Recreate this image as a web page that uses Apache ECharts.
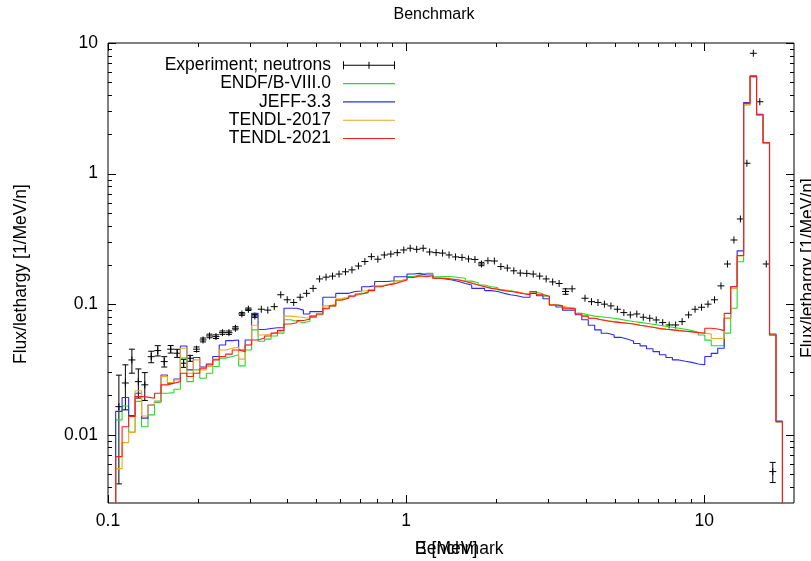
<!DOCTYPE html>
<html><head><meta charset="utf-8">
<script src="https://cdn.jsdelivr.net/npm/echarts@6/dist/echarts.min.js"></script>
<style>html,body{margin:0;padding:0;background:#fff}#c{width:811px;height:561px}</style>
</head><body><div id="c"></div>
<script>
// Bin edges [MeV] (lethargy bins)
const binEdges = [
0.1061, 0.1115, 0.1173, 0.1233, 0.1296, 0.1362, 0.1432, 0.1506, 0.1583, 0.1664,
0.1749, 0.1839, 0.1933, 0.2032, 0.2137, 0.2246, 0.2361, 0.2482, 0.2610, 0.2743,
0.2884, 0.3032, 0.3187, 0.3351, 0.3523, 0.3703, 0.3893, 0.4093, 0.4303, 0.4523,
0.4755, 0.4999, 0.5255, 0.5525, 0.5808, 0.6106, 0.6419, 0.6748, 0.7094, 0.7457,
0.7840, 0.8242, 0.8664, 0.9109, 0.9576, 1.0067, 1.0583, 1.1125, 1.1696, 1.2295,
1.2926, 1.3588, 1.4285, 1.5017, 1.5787, 1.6597, 1.7448, 1.8342, 1.9283, 2.0271,
2.1311, 2.2404, 2.3552, 2.4760, 2.6029, 2.7364, 2.8767, 3.0242, 3.1792, 3.3422,
3.5136, 3.6937, 3.8831, 4.0822, 4.2915, 4.5115, 4.7428, 4.9860, 5.2417, 5.5104,
5.7929, 6.0899, 6.4022, 6.7304, 7.0755, 7.4383, 7.8196, 8.2206, 8.6420, 9.0851,
9.5509, 10.041, 10.555, 11.097, 11.666, 12.264, 12.892, 13.554, 14.248, 14.979,
15.747, 16.554, 17.403, 18.295];

const endf = [
0.0130, 0.0166, 0.0105, 0.018, 0.0115, 0.0142, 0.0177, 0.0208, 0.021, 0.0223,
0.0386, 0.0255, 0.0314, 0.0271, 0.0296, 0.0333, 0.0386, 0.0397, 0.041, 0.0337,
0.0446, 0.0635, 0.052, 0.054, 0.057, 0.060, 0.076, 0.074, 0.072, 0.074,
0.079, 0.083, 0.092, 0.097, 0.107, 0.111, 0.116, 0.120, 0.124, 0.129,
0.137, 0.141, 0.145, 0.151, 0.156, 0.163, 0.167, 0.172, 0.172, 0.162,
0.163, 0.162, 0.160, 0.158, 0.150, 0.146, 0.140, 0.136, 0.134, 0.1285,
0.127, 0.124, 0.121, 0.120, 0.123, 0.120, 0.115, 0.0995, 0.0975, 0.094,
0.093, 0.085, 0.083, 0.081, 0.080, 0.079, 0.078, 0.0765, 0.075, 0.0737,
0.0725, 0.0714, 0.0702, 0.0689, 0.0677, 0.0665, 0.0654, 0.0642, 0.0627, 0.061,
0.058, 0.053, 0.048, 0.048, 0.060, 0.093, 0.211, 3.35, 5.5, 2.80,
1.70, 0.058, 0.0125];

const jeff = [
0.0151, 0.0193, 0.0140, 0.0208, 0.0134, 0.0169, 0.0180, 0.0287, 0.0248, 0.0267,
0.0478, 0.0314, 0.039, 0.033, 0.0348, 0.0397, 0.0487, 0.0526, 0.0532, 0.0446,
0.0532, 0.085, 0.064, 0.065, 0.066, 0.066, 0.093, 0.093, 0.090, 0.084,
0.0877, 0.0877, 0.113, 0.113, 0.121, 0.121, 0.125, 0.126, 0.136, 0.138,
0.149, 0.149, 0.151, 0.162, 0.162, 0.170, 0.172, 0.167, 0.167, 0.158,
0.156, 0.153, 0.149, 0.144, 0.140, 0.132, 0.132, 0.127, 0.125, 0.121,
0.118, 0.116, 0.113, 0.113, 0.121, 0.116, 0.110, 0.0986, 0.095, 0.090,
0.090, 0.083, 0.076, 0.069, 0.0635, 0.0598, 0.058, 0.0557, 0.054, 0.0523,
0.050, 0.0479, 0.0456, 0.0433, 0.041, 0.039, 0.0374, 0.0365, 0.0358, 0.0348,
0.0343, 0.0397, 0.042, 0.046, 0.078, 0.136, 0.256, 3.50, 5.6, 2.84,
1.73, 0.059, 0.0127];

const tendl2017 = [
0.0055, 0.0087, 0.0104, 0.0217, 0.0139, 0.0169, 0.0180, 0.028, 0.0251, 0.0263,
0.046, 0.0296, 0.0374, 0.0314, 0.0333, 0.038, 0.0446, 0.046, 0.0468, 0.0379,
0.0487, 0.069, 0.058, 0.059, 0.061, 0.063, 0.081, 0.080, 0.079, 0.078,
0.081, 0.084, 0.097, 0.100, 0.110, 0.113, 0.117, 0.121, 0.126, 0.130,
0.138, 0.141, 0.144, 0.150, 0.154, 0.160, 0.163, 0.165, 0.166, 0.159,
0.158, 0.156, 0.154, 0.150, 0.146, 0.141, 0.137, 0.133, 0.131, 0.128,
0.126, 0.124, 0.121, 0.119, 0.124, 0.119, 0.115, 0.099, 0.097, 0.094,
0.092, 0.085, 0.081, 0.078, 0.076, 0.075, 0.0735, 0.0725, 0.0715, 0.0705,
0.069, 0.0678, 0.0666, 0.0652, 0.0644, 0.0637, 0.063, 0.0622, 0.0615, 0.0608,
0.060, 0.059, 0.0545, 0.0545, 0.078, 0.132, 0.234, 3.40, 5.55, 2.80,
1.71, 0.058, 0.0125];

const tendl2021 = [
0.0068, 0.0115, 0.0138, 0.0196, 0.0194, 0.0190, 0.0208, 0.0241, 0.0248, 0.0255,
0.0296, 0.0279, 0.0296, 0.0323, 0.0342, 0.0374, 0.0397, 0.0414, 0.0446, 0.0433,
0.0487, 0.0532, 0.055, 0.057, 0.060, 0.063, 0.0705, 0.072, 0.075, 0.0766,
0.081, 0.084, 0.093, 0.097, 0.1077, 0.111, 0.115, 0.1197, 0.1225, 0.127,
0.136, 0.140, 0.143, 0.148, 0.153, 0.160, 0.165, 0.162, 0.165, 0.158,
0.157, 0.155, 0.153, 0.149, 0.1445, 0.140, 0.136, 0.132, 0.130, 0.127,
0.125, 0.123, 0.120, 0.118, 0.125, 0.118, 0.115, 0.0986, 0.097, 0.093,
0.092, 0.084, 0.081, 0.078, 0.076, 0.0744, 0.0731, 0.0722, 0.0714, 0.0705,
0.0689, 0.0677, 0.0665, 0.065, 0.0642, 0.0635, 0.0627, 0.062, 0.0613, 0.0605,
0.0598, 0.0654, 0.0646, 0.0627, 0.085, 0.136, 0.236, 3.45, 5.55, 2.82,
1.72, 0.058, 0.0126];

const expFlux = [
0.0164, 0.0249, 0.0374, 0.0255, 0.0241, 0.0396, 0.0441, 0.0363, 0.0452, 0.0421,
0.0353, 0.0385, 0.0452, 0.0532, 0.0571, 0.0564, 0.0605, 0.0605, 0.0654, 0.0841,
0.0914, 0.0812, 0.0914, 0.090, 0.0957, 0.118, 0.108, 0.103, 0.113, 0.121,
0.132, 0.156, 0.161, 0.164, 0.170, 0.177, 0.183, 0.196, 0.212, 0.231,
0.221, 0.238, 0.242, 0.248, 0.260, 0.268, 0.263, 0.268, 0.251, 0.248,
0.246, 0.238, 0.230, 0.228, 0.222, 0.220, 0.203, 0.215, 0.214, 0.194,
0.189, 0.180, 0.173, 0.172, 0.170, 0.164, 0.156, 0.148, 0.144, 0.125,
0.131, null, 0.111, 0.1045, 0.103, 0.100, 0.097, 0.0914, 0.0861, 0.0827,
0.0841, 0.0794, 0.078, 0.0757, 0.0722, 0.0693, 0.0693, 0.0735, 0.0827, 0.0914,
0.0947, 0.100, 0.108, 0.138, 0.203, 0.310, 0.449, 1.20, 8.34, 3.55,
0.203, 0.00522, null];

const expErr = [
0.0122, 0.0094, 0.0078, 0.0064, 0.0058, 0.0040, 0.0040, 0.0033, 0.0030, 0.0030,
0.0025, 0.0020, 0.0018, 0.0018, 0.0018, 0.0018, 0.0018, 0.0018, 0.0018, 0.0020,
0.0020, 0.0020, 0, 0, 0, 0, 0, 0, 0, 0,
0, 0, 0, 0, 0, 0, 0, 0, 0, 0,
0, 0, 0, 0, 0, 0, 0, 0, 0, 0,
0, 0, 0, 0, 0, 0, 0.006, 0, 0, 0,
0, 0, 0, 0, 0, 0, 0, 0, 0, 0.006,
0, 0, 0, 0, 0, 0, 0, 0, 0, 0,
0, 0, 0, 0, 0, 0, 0, 0, 0, 0,
0, 0, 0, 0, 0, 0, 0, 0, 0, 0,
0, 0.00092, 0];

const xMajorTicks = [0.1, 1, 10];
const xMinorTicks = [0.2, 0.3, 0.4, 0.5, 0.6, 0.7, 0.8, 0.9, 2, 3, 4, 5, 6, 7, 8, 9];
const yMajorTicks = [0.01, 0.1, 1, 10];
const yMinorTicks = [0.004, 0.005, 0.006, 0.007, 0.008, 0.009,
  0.02, 0.03, 0.04, 0.05, 0.06, 0.07, 0.08, 0.09,
  0.2, 0.3, 0.4, 0.5, 0.6, 0.7, 0.8, 0.9,
  2, 3, 4, 5, 6, 7, 8, 9];

const names = ['Experiment; neutrons', 'ENDF/B-VIII.0', 'JEFF-3.3', 'TENDL-2017', 'TENDL-2021'];
const colors = ['#000000', '#22dd22', '#2a2aff', '#f5a623', '#ff1a1a'];
const FONT = "'Liberation Sans', Arial, Helvetica, sans-serif";
const FLOOR = 1e-5;
const LINE_ICON = 'path://M0,3.5h52v1.1h-52z';
const EXP_ICON = 'path://M0,3.5h52v1h-52z M0,0h1v8h-1z M51,0h1v8h-1z M25.5,0.5h1v7h-1z';

function stepData(vals) {
  const d = [[binEdges[0], FLOOR]];
  vals.forEach((v, i) => d.push([binEdges[i], v]));
  d.push([binEdges[vals.length], FLOOR]);
  return d;
}
const expData = [];
expFlux.forEach((v, i) => {
  if (v === null) return;
  expData.push([Math.sqrt(binEdges[i] * binEdges[i + 1]), v, expErr[i] || 0]);
});

const chart = echarts.init(document.getElementById('c'), null, {renderer: 'canvas'});
const lineSeries = (name, vals, color) => ({
  type: 'line', name, data: stepData(vals), step: 'end', symbol: 'none',
  lineStyle: {color, width: 1.1}, itemStyle: {color}, silent: true, clip: true, animation: false
});
const fmt = v => String(parseFloat(Number(v).toPrecision(4)));
const stl = {stroke: '#000', lineWidth: 1};

chart.setOption({
  animation: false,
  backgroundColor: '#fff',
  grid: {left: 108, right: 17, top: 43, bottom: 58, show: true, borderColor: '#000', borderWidth: 1},
  xAxis: {
    type: 'log', logBase: 10, min: 0.1, max: 20,
    axisLine: {show: false}, axisTick: {show: false}, splitLine: {show: false}, minorTick: {show: false},
    axisLabel: {color: '#000', fontSize: 17.5, fontFamily: FONT, margin: 9, showMaxLabel: false, formatter: fmt}
  },
  yAxis: {
    type: 'log', logBase: 10, min: 0.003, max: 10,
    axisLine: {show: false}, axisTick: {show: false}, splitLine: {show: false}, minorTick: {show: false},
    axisLabel: {color: '#000', fontSize: 17.5, fontFamily: FONT, margin: 10, showMinLabel: false, formatter: fmt}
  },
  legend: {
    data: [
      {name: names[0], icon: EXP_ICON},
      {name: names[1], icon: LINE_ICON},
      {name: names[2], icon: LINE_ICON},
      {name: names[3], icon: LINE_ICON},
      {name: names[4], icon: LINE_ICON}
    ],
    orient: 'vertical', align: 'right', right: 416, top: 56.3, padding: 0, itemGap: 0.3,
    itemWidth: 52, itemHeight: 8, selectedMode: false,
    textStyle: {fontSize: 17.5, fontFamily: FONT, color: '#000', lineHeight: 18, padding: [0, 7, 0, 0]}
  },
  graphic: [
    {type: 'text', x: 434, y: 14.5, style: {text: 'Benchmark', font: '16px ' + FONT, fill: '#000', align: 'center', verticalAlign: 'middle'}},
    {type: 'text', x: 415, y: 549, style: {text: 'E [MeV]', font: '17.5px ' + FONT, fill: '#000', align: 'left', verticalAlign: 'middle'}},
    {type: 'text', x: 415, y: 549, style: {text: 'Benchmark', font: '17.5px ' + FONT, fill: '#000', align: 'left', verticalAlign: 'middle'}},
    {type: 'text', x: 21.5, y: 274, rotation: Math.PI / 2, style: {text: 'Flux/lethargy [1/MeV/n]', font: '17.5px ' + FONT, fill: '#000', align: 'center', verticalAlign: 'middle'}},
    {type: 'text', x: 808, y: 268, rotation: Math.PI / 2, style: {text: 'Flux/lethargy [1/MeV/n]', font: '17.5px ' + FONT, fill: '#000', align: 'center', verticalAlign: 'middle'}}
  ],
  series: [
    {
      type: 'custom', name: names[0], data: expData, encode: {x: 0, y: 1}, silent: true,
      itemStyle: {color: '#000'},
      renderItem(params, api) {
        const x = api.value(0), v = api.value(1), e = api.value(2);
        const p = api.coord([x, v]);
        const h = 3.5, c = 3;
        const ch = [
          {type: 'line', shape: {x1: p[0] - h, y1: p[1], x2: p[0] + h, y2: p[1]}, style: stl},
          {type: 'line', shape: {x1: p[0], y1: p[1] - h, x2: p[0], y2: p[1] + h}, style: stl}
        ];
        if (e > 0) {
          const pt = api.coord([x, v + e]), pb = api.coord([x, v - e]);
          ch.push({type: 'line', shape: {x1: p[0], y1: pt[1], x2: p[0], y2: pb[1]}, style: stl});
          ch.push({type: 'line', shape: {x1: p[0] - c, y1: pt[1], x2: p[0] + c, y2: pt[1]}, style: stl});
          ch.push({type: 'line', shape: {x1: p[0] - c, y1: pb[1], x2: p[0] + c, y2: pb[1]}, style: stl});
        }
        return {type: 'group', children: ch};
      }
    },
    lineSeries(names[1], endf, colors[1]),
    lineSeries(names[2], jeff, colors[2]),
    lineSeries(names[3], tendl2017, colors[3]),
    lineSeries(names[4], tendl2021, colors[4]),
    {
      type: 'custom', name: 'xticks', silent: true, encode: {x: 0, y: 1}, z: 5,
      data: xMajorTicks.map(v => [v, 1, 8]).concat(xMinorTicks.map(v => [v, 1, 4])),
      renderItem(params, api) {
        const cs = params.coordSys;
        const px = Math.round(api.coord([api.value(0), 1])[0]) + 0.5;
        const len = api.value(2), b = cs.y + cs.height;
        return {type: 'group', children: [
          {type: 'line', shape: {x1: px, y1: b, x2: px, y2: b - len}, style: stl},
          {type: 'line', shape: {x1: px, y1: cs.y, x2: px, y2: cs.y + len}, style: stl}
        ]};
      }
    },
    {
      type: 'custom', name: 'yticks', silent: true, encode: {x: 0, y: 1}, z: 5,
      data: yMajorTicks.map(v => [1, v, 8]).concat(yMinorTicks.map(v => [1, v, 4])),
      renderItem(params, api) {
        const cs = params.coordSys;
        const py = Math.round(api.coord([1, api.value(1)])[1]) + 0.5;
        const len = api.value(2), r = cs.x + cs.width;
        return {type: 'group', children: [
          {type: 'line', shape: {x1: cs.x, y1: py, x2: cs.x + len, y2: py}, style: stl},
          {type: 'line', shape: {x1: r, y1: py, x2: r - len, y2: py}, style: stl}
        ]};
      }
    }
  ]
});
</script></body></html>
